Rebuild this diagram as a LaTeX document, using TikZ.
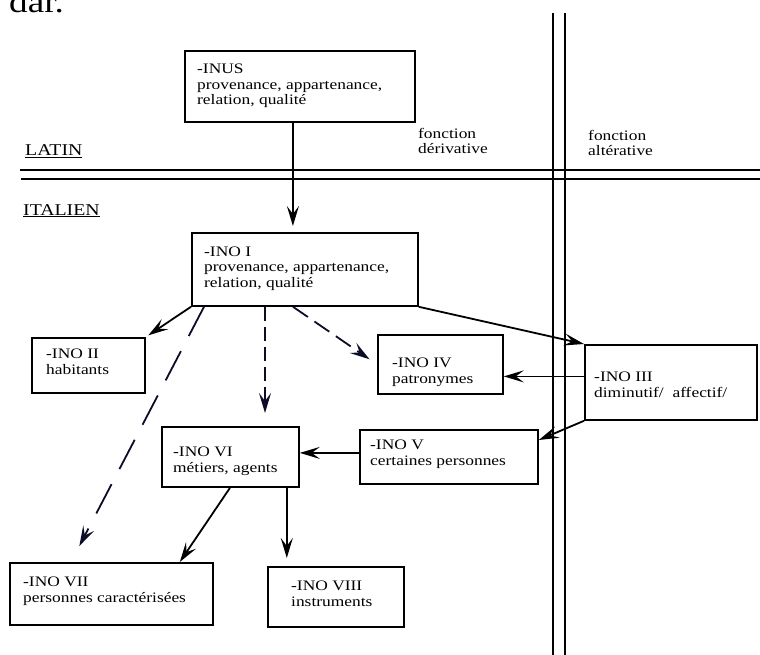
\documentclass[tikz,border=0pt]{standalone}
\usepackage{fontspec}
\setmainfont{Liberation Serif}[FakeStretch=1.2]
\usetikzlibrary{arrows.meta}

\definecolor{navyline}{RGB}{12,12,40}

\tikzset{
  box/.style={draw, line width=1.8pt, rectangle, inner sep=0pt, anchor=north west},
  boxtext/.style={anchor=base west, align=left, inner sep=0pt, font=\fontsize{14.5}{15.5}\selectfont},
  headtext/.style={anchor=base west, inner sep=0pt, font=\fontsize{16.5}{18}\selectfont},
  arr/.style={line width=1.8pt, -{Stealth[length=20pt, width=12pt, inset=8pt]}},
  dasharr/.style={arr, color=navyline}
}

\begin{document}
\begin{tikzpicture}[x=1pt, y=-1pt]
\useasboundingbox (0,0) rectangle (760,655);
\begin{scope}
\clip (0,0) rectangle (760,655);
\node[anchor=base west, inner sep=0pt, font=\fontsize{31}{34}\selectfont] (dar) at (9,13) {dar.};
\end{scope}

% double lines
\draw[line width=1.8pt] (553,13) -- (553,655);
\draw[line width=1.8pt] (565,13) -- (565,655);
\draw[line width=1.8pt] (20,170) -- (760,170);
\draw[line width=1.8pt] (21,179) -- (760,179);

\node[headtext] (latin) at (25,156) {\underline{LATIN}};
\node[headtext] (italien) at (23,215) {\underline{ITALIEN}};
\node[boxtext] (derivative) at (418,154) {fonction\\dérivative};
\node[boxtext] (alterative) at (588,156) {fonction\\altérative};

% boxes
\node[box, minimum width=230pt, minimum height=71pt] (inus) at (184,50) {};
\node[box, minimum width=226pt, minimum height=73pt] (ino1) at (191,232) {};
\node[box, minimum width=113pt, minimum height=55pt] (ino2) at (31,337) {};
\node[box, minimum width=172pt, minimum height=75pt] (ino3) at (584,344) {};
\node[box, minimum width=125pt, minimum height=59pt] (ino4) at (377,334) {};
\node[box, minimum width=178pt, minimum height=54pt] (ino5) at (359,429) {};
\node[box, minimum width=137pt, minimum height=60pt] (ino6) at (161,426) {};
\node[box, minimum width=203pt, minimum height=62pt] (ino7) at (9,562) {};
\node[box, minimum width=136pt, minimum height=60pt] (ino8) at (267,566) {};

\node[boxtext] (inus-t) at (197,105) {-INUS\\provenance, appartenance,\\relation, qualité};
\node[boxtext] (ino1-t) at (204,287) {-INO I\\provenance, appartenance,\\relation, qualité};
\node[boxtext] (ino2-t) at (46,374) {-INO II\\habitants};
\node[boxtext] (ino3-t) at (594,397) {-INO III\\diminutif/ \ affectif/};
\node[boxtext] (ino4-t) at (392,383) {-INO IV\\patronymes};
\node[boxtext] (ino5-t) at (370,465) {-INO V\\certaines personnes};
\node[boxtext] (ino6-t) at (173,472) {-INO VI\\métiers, agents};
\node[boxtext] (ino7-t) at (23,602) {-INO VII\\personnes caractérisées};
\node[boxtext] (ino8-t) at (291,606) {-INO VIII\\instruments};

% arrows
\draw[arr, shorten >=6pt] ([xshift=-7pt]inus.south) -- ([xshift=-7pt]inus.south |- ino1.north);
\draw[arr, shorten >=3pt] (ino1.south west) -- (ino2.north east);
\draw[dasharr, dash pattern=on 33pt off 17pt, shorten >=18pt] ([xshift=13pt]ino1.south west) -- ([xshift=62pt]ino7.north west);
\draw[dasharr, dash pattern=on 14pt off 6pt, shorten >=13pt] ([xshift=74pt]ino1.south west) -- ([xshift=104pt]ino6.north west);
\draw[dasharr, dash pattern=on 18pt off 8pt, shorten >=9pt] ([xshift=102pt]ino1.south west) -- (ino4.west);
\draw[arr] (ino1.south east) -- (ino3.north west);
\draw[arr] ([yshift=6pt]ino3.west) -- ([yshift=6pt]ino3.west -| ino4.east);
\draw[arr] (ino3.south west) -- ([yshift=-11pt]ino5.north east);
\draw[arr] ([yshift=4pt]ino5.west) -- ([yshift=4pt]ino5.west -| ino6.east);
\draw[arr] ([xshift=69pt]ino6.south west) -- ([xshift=-34pt]ino7.north east);
\draw[arr, shorten >=8pt] ([xshift=-13pt]ino6.south east) -- ([xshift=-13pt]ino6.south east |- ino8.north);
\end{tikzpicture}
\end{document}
